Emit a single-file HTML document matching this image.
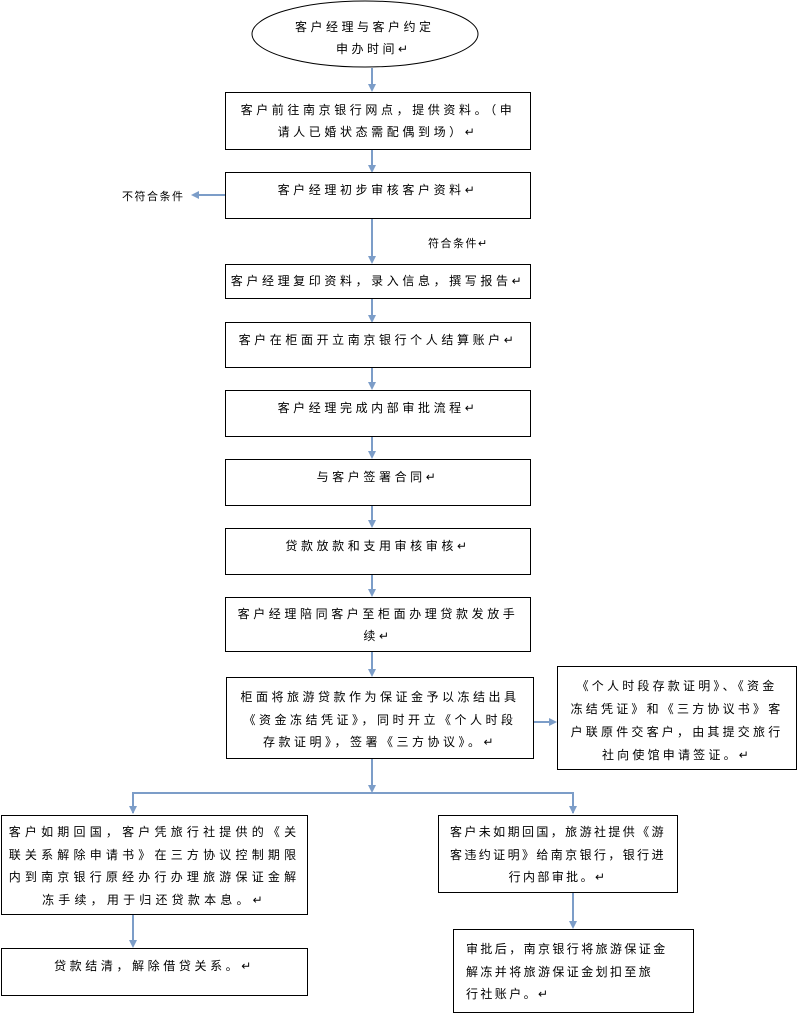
<!DOCTYPE html>
<html><head><meta charset="utf-8"><style>
body{margin:0;width:800px;height:1020px;background:#fff;position:relative;overflow:hidden;font-family:"Liberation Sans","Noto Sans CJK SC",sans-serif;font-size:12px;color:#000}
.b{position:absolute;border:1px solid #000;box-sizing:border-box;text-align:center;line-height:22px;padding-top:6px;letter-spacing:3.6px;white-space:nowrap}
.t{position:absolute;white-space:nowrap;letter-spacing:1.5px;font-size:11px}
svg{position:absolute;left:0;top:0}
</style></head><body>
<svg width="800" height="1020">
<defs><marker id="a" markerWidth="8" markerHeight="8" refX="6" refY="4" orient="auto" markerUnits="userSpaceOnUse"><path d="M0,0 L8,4 L0,8 Z" fill="#7c9dc8"/></marker></defs>
<ellipse cx="365" cy="34" rx="113" ry="33" fill="#fff" stroke="#000"/>
<g stroke="#7c9dc8" stroke-width="2" fill="none">
<line x1="372" y1="68" x2="372" y2="90" marker-end="url(#a)"/>
<line x1="372" y1="149" x2="372" y2="171" marker-end="url(#a)"/>
<line x1="225" y1="195" x2="193" y2="195" marker-end="url(#a)"/>
<line x1="372" y1="218" x2="372" y2="262" marker-end="url(#a)"/>
<line x1="372" y1="298" x2="372" y2="321" marker-end="url(#a)"/>
<line x1="372" y1="367" x2="372" y2="388" marker-end="url(#a)"/>
<line x1="372" y1="436" x2="372" y2="457" marker-end="url(#a)"/>
<line x1="372" y1="505" x2="372" y2="526" marker-end="url(#a)"/>
<line x1="372" y1="574" x2="372" y2="595" marker-end="url(#a)"/>
<line x1="372" y1="651" x2="372" y2="675" marker-end="url(#a)"/>
<line x1="533" y1="722" x2="555" y2="722" marker-end="url(#a)"/>
<line x1="372" y1="758" x2="372" y2="791" marker-end="url(#a)"/>
<polyline points="133,813 133,793 573,793 573,813" />
<line x1="133" y1="914" x2="133" y2="946" marker-end="url(#a)"/>
<line x1="573" y1="892" x2="573" y2="927" marker-end="url(#a)"/>
</g>
<path d="M129,806 L133,814 L137,806 Z M569,806 L573,814 L577,806 Z" fill="#7c9dc8"/>
</svg>
<div class="t" style="left:295px;top:18px;font-size:12px;letter-spacing:3.5px">客户经理与客户约定</div>
<div class="t" style="left:336px;top:40px;font-size:12px;letter-spacing:3.5px">申办时间↵</div>
<div class="b" style="left:225px;top:92px;width:306px;height:58px">客户前往南京银行网点，提供资料。（申<br>请人已婚状态需配偶到场）↵</div>
<div class="b" style="left:225px;top:172px;width:306px;height:47px">客户经理初步审核客户资料↵</div>
<div class="t" style="left:122px;top:188px">不符合条件</div>
<div class="t" style="left:428px;top:235px">符合条件↵</div>
<div class="b" style="left:225px;top:264px;width:306px;height:35px;padding-top:5px">客户经理复印资料，录入信息，撰写报告↵</div>
<div class="b" style="left:225px;top:322px;width:306px;height:46px">客户在柜面开立南京银行个人结算账户↵</div>
<div class="b" style="left:225px;top:390px;width:306px;height:47px">客户经理完成内部审批流程↵</div>
<div class="b" style="left:225px;top:459px;width:306px;height:47px">与客户签署合同↵</div>
<div class="b" style="left:225px;top:528px;width:306px;height:47px">贷款放款和支用审核审核↵</div>
<div class="b" style="left:225px;top:597px;width:306px;height:55px;padding-top:5px">客户经理陪同客户至柜面办理贷款发放手<br>续↵</div>
<div class="b" style="left:226px;top:677px;width:308px;height:82px;line-height:22.5px;padding-top:8px;letter-spacing:3.5px">柜面将旅游贷款作为保证金予以冻结出具<br>《资金冻结凭证》，同时开立《个人时段<br>存款证明》，签署《三方协议》。↵</div>
<div class="b" style="left:557px;top:666px;width:240px;height:104px;line-height:23px;padding-top:8px;letter-spacing:3.2px">《个人时段存款证明》、《资金<br>冻结凭证》和《三方协议书》客<br>户联原件交客户，由其提交旅行<br>社向使馆申请签证。↵</div>
<div class="b" style="left:1px;top:815px;width:307px;height:100px;line-height:22.5px;padding-top:5px;letter-spacing:4.2px">客户如期回国，客户凭旅行社提供的《关<br>联关系解除申请书》在三方协议控制期限<br>内到南京银行原经办行办理旅游保证金解<br>冻手续，用于归还贷款本息。↵</div>
<div class="b" style="left:1px;top:948px;width:307px;height:48px">贷款结清，解除借贷关系。↵</div>
<div class="b" style="left:438px;top:815px;width:240px;height:78px;line-height:22.5px;padding-top:5px;letter-spacing:2.4px">客户未如期回国，旅游社提供《游<br>客违约证明》给南京银行，银行进<br>行内部审批。↵</div>
<div class="b" style="left:453px;top:929px;width:241px;height:84px;line-height:22.5px;padding-top:8px;letter-spacing:2.4px;text-align:left;padding-left:12px">审批后，南京银行将旅游保证金<br>解冻并将旅游保证金划扣至旅<br>行社账户。↵</div>
</body></html>
